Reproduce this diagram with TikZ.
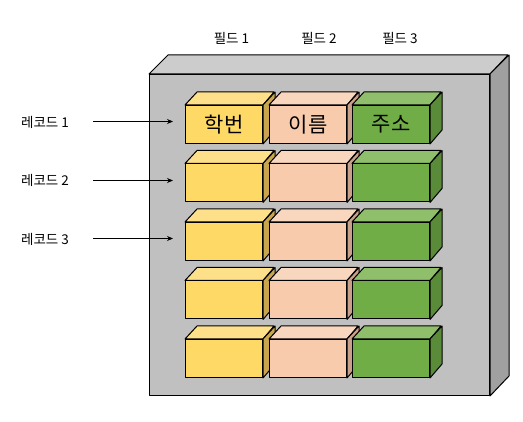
\documentclass[tikz,border=0pt]{standalone}
\usepackage{fontspec}
\setmainfont{Noto Sans CJK KR}
\usetikzlibrary{arrows.meta}
\definecolor{yfront}{HTML}{FFD966}
\definecolor{ytop}{HTML}{FFE08A}
\definecolor{yside}{HTML}{C9A64E}
\definecolor{pfront}{HTML}{F8CBAD}
\definecolor{ptop}{HTML}{F9D6BE}
\definecolor{pside}{HTML}{C9A08A}
\definecolor{gfront}{HTML}{70AD47}
\definecolor{gtop}{HTML}{8FBF6A}
\definecolor{gside}{HTML}{5A8B38}
\definecolor{bfront}{HTML}{C0C0C0}
\definecolor{btop}{HTML}{CCCCCC}
\definecolor{bside}{HTML}{A0A0A0}
\newcommand\mycube[5]{%
  \node[cubeface, fill=#4front] (#3) at (#1,#2) {#5};
  \draw[fill=#4top] (#3.north west) -- ++(12,-13) -- ++(77,0) -- (#3.north east) -- cycle;
  \draw[fill=#4side] (#3.north east) -- ++(12,-13) -- ++(0,38) -- (#3.south east) -- cycle;
}
\begin{document}
\begin{tikzpicture}[x=1pt,y=-1pt,line width=1pt,line join=round,
  cubeface/.style={draw, anchor=north west, minimum width=77pt, minimum height=38pt, inner sep=0pt, font=\fontsize{21}{21}\selectfont},
  lbl/.style={font=\fontsize{13.5}{13.5}\selectfont, inner sep=0pt},
  arr/.style={-{Stealth[length=6pt,width=5pt]}, line width=0.8pt}]
\useasboundingbox (0,0) rectangle (523,422);
% big box
\node[draw, fill=bfront, anchor=north west, minimum width=340pt, minimum height=321pt, inner sep=0pt] (box) at (149,74) {};
\draw[fill=btop] (box.north west) -- ++(19,-19) -- ++(340,0) -- (box.north east) -- cycle;
\draw[fill=bside] (box.north east) -- ++(19,-19) -- ++(0,321) -- (box.south east) -- cycle;
% cubes
\mycube{185}{105}{c11}{y}{학번}
\mycube{269}{105}{c12}{p}{이름}
\mycube{352}{105}{c13}{g}{주소}
\mycube{185}{163.5}{c21}{y}{}
\mycube{269}{163.5}{c22}{p}{}
\mycube{352}{163.5}{c23}{g}{}
\mycube{185}{222}{c31}{y}{}
\mycube{269}{222}{c32}{p}{}
\mycube{352}{222}{c33}{g}{}
\mycube{185}{280.5}{c41}{y}{}
\mycube{269}{280.5}{c42}{p}{}
\mycube{352}{280.5}{c43}{g}{}
\mycube{185}{339}{c51}{y}{}
\mycube{269}{339}{c52}{p}{}
\mycube{352}{339}{c53}{g}{}
% field labels
\node[lbl] (f1) at (231.5,38) {필드 1};
\node[lbl] (f2) at (319,38) {필드 2};
\node[lbl] (f3) at (400,38) {필드 3};
% record labels and arrows
\node[lbl] (r1) at (45,122) {레코드 1};
\node[lbl] (r2) at (45,180) {레코드 2};
\node[lbl] (r3) at (45,239) {레코드 3};
\coordinate (s1) at (93,121.5); \coordinate (e1) at (173,121.5);
\coordinate (s2) at (93,180.5); \coordinate (e2) at (173,180.5);
\coordinate (s3) at (93,238.5); \coordinate (e3) at (173,238.5);
\draw[arr] (s1) -- (e1);
\draw[arr] (s2) -- (e2);
\draw[arr] (s3) -- (e3);
\end{tikzpicture}
\end{document}
